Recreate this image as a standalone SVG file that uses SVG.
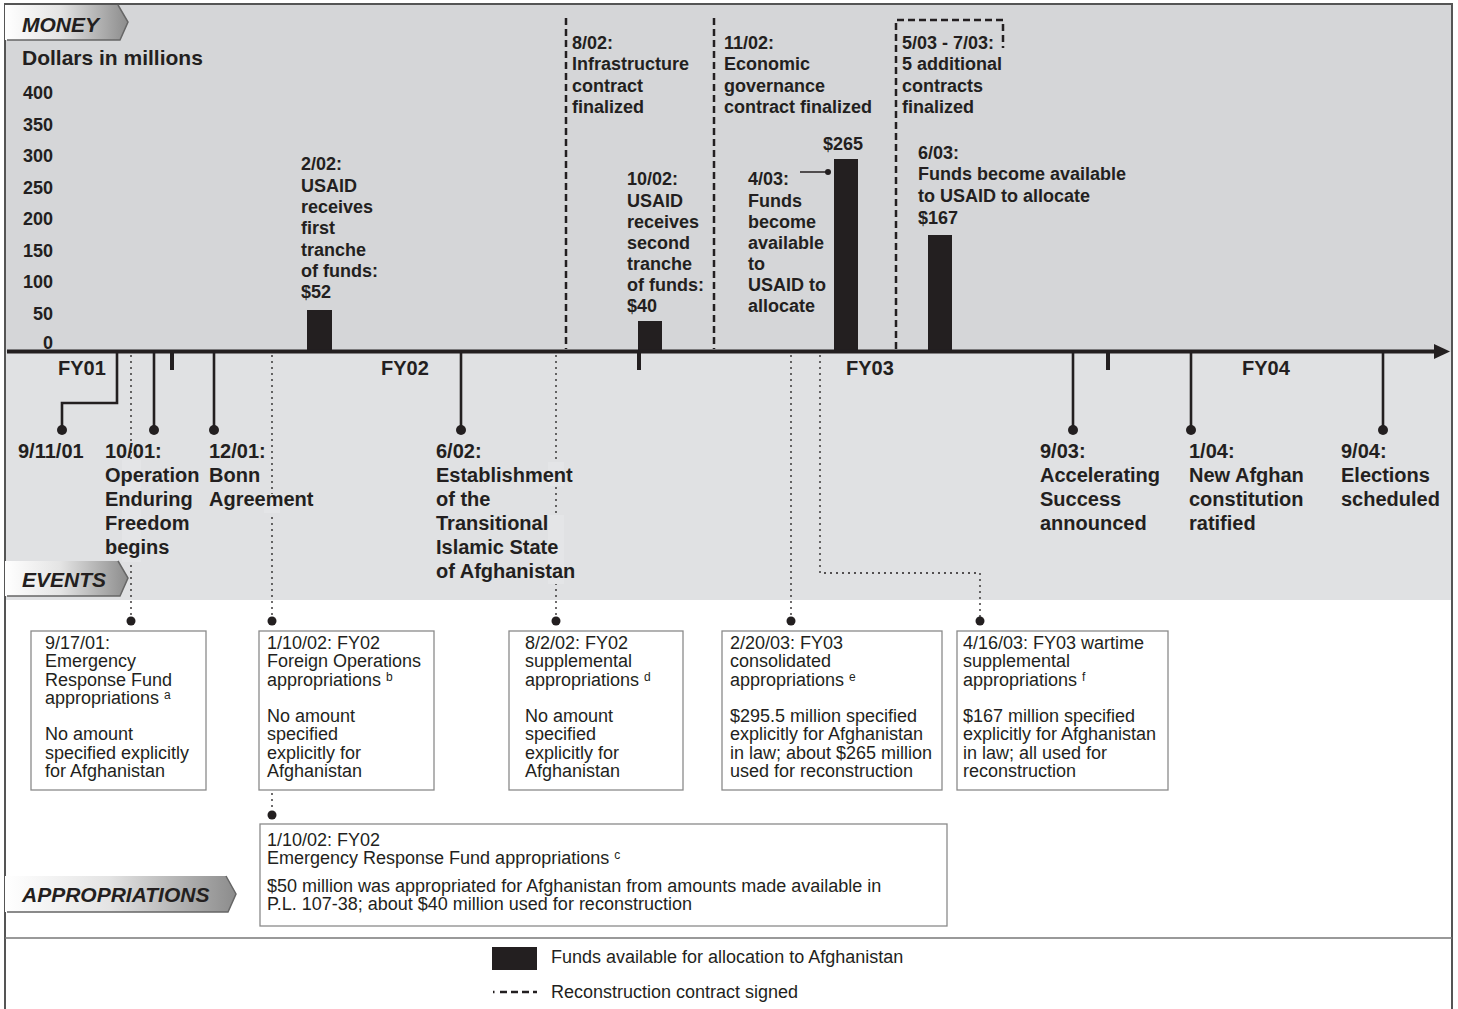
<svg xmlns="http://www.w3.org/2000/svg" width="1458" height="1009" viewBox="0 0 1458 1009">
<style>
.t{font-family:"Liberation Sans",Arial,Helvetica,sans-serif;fill:#231f20}
.b{font-weight:bold}
.s18{font-size:18px}
.s20{font-size:20px}
.s21{font-size:21px}
.tab{font-size:21px;font-weight:bold;font-style:italic}
.sup{font-size:12px}
.ev{stroke:#231f20;stroke-width:2.6;fill:none}
.dash{stroke:#231f20;stroke-width:2.5;fill:none;stroke-dasharray:7 4}
.dot{stroke:#231f20;stroke-width:1.3;fill:none;stroke-dasharray:2 4}
.box{fill:#fff;stroke:#8a8a8a;stroke-width:1.3}
.bar{fill:#231f20}
.mask{fill:#e4e5e7}
</style>
<defs>
<linearGradient id="tabg" x1="0" y1="0" x2="1" y2="0">
<stop offset="0" stop-color="#ffffff"/>
<stop offset="0.45" stop-color="#e4e4e4"/>
<stop offset="1" stop-color="#8c8c8c"/>
</linearGradient>
</defs>
<rect x="0" y="0" width="1458" height="1009" fill="#ffffff"/>
<!-- backgrounds -->
<rect x="5" y="4" width="1447" height="348" fill="#d5d6d8"/>
<rect x="5" y="352" width="1447" height="248" fill="#e0e1e3"/>
<!-- frame -->
<rect x="5" y="4" width="1447" height="1012" fill="none" stroke="#555" stroke-width="2"/>
<line x1="5" y1="938" x2="1452" y2="938" stroke="#777" stroke-width="1.5"/>

<!-- tabs -->
<g id="tab-money">
<polygon points="5,5 118,5 128,22 120,40 5,40" fill="url(#tabg)"/>
<polyline points="118,5 128,22 120,40 7,40" fill="none" stroke="#666" stroke-width="1.5"/>
<text class="t tab" x="22" y="32">MONEY</text>
</g>
<g id="tab-events">
<polygon points="5,561 118,561 128,578 120,596 5,596" fill="url(#tabg)"/>
<polyline points="118,561 128,578 120,596 7,596" fill="none" stroke="#666" stroke-width="1.5"/>
<text class="t tab" x="22" y="587">EVENTS</text>
</g>
<g id="tab-appropriations">
<polygon points="5,876 226,876 236,894 228,912 5,912" fill="url(#tabg)"/>
<polyline points="226,876 236,894 228,912 7,912" fill="none" stroke="#666" stroke-width="1.5"/>
<text class="t tab" x="22" y="902">APPROPRIATIONS</text>
</g>

<!-- y axis labels -->
<g id="yaxis" class="t b s18" text-anchor="end">
<text x="22" y="65" text-anchor="start" class="s21">Dollars in millions</text>
<text x="53" y="99">400</text>
<text x="53" y="131">350</text>
<text x="53" y="162">300</text>
<text x="53" y="194">250</text>
<text x="53" y="225">200</text>
<text x="53" y="257">150</text>
<text x="53" y="288">100</text>
<text x="53" y="320">50</text>
<text x="53" y="349">0</text>
</g>

<!-- connectors -->
<g id="connectors">
<!-- contract dashed lines -->
<path class="dash" d="M566,18 V349"/>
<path class="dash" d="M714,18 V349"/>
<path class="dash" d="M896,349 V20 H1003 V48"/>
<!-- dotted appropriation leaders -->
<path class="dot" d="M131,355 V617"/>
<path class="dot" d="M272,355 V617"/>
<path class="dot" d="M272,793 V811"/>
<path class="dot" d="M556,355 V617"/>
<path class="dot" d="M791,355 V617"/>
<path class="dot" d="M820,355 V573 H980 V617"/>
<circle cx="131" cy="621" r="4.5" fill="#231f20"/>
<circle cx="272" cy="621" r="4.5" fill="#231f20"/>
<circle cx="272" cy="815" r="4.5" fill="#231f20"/>
<circle cx="556" cy="621" r="4.5" fill="#231f20"/>
<circle cx="791" cy="621" r="4.5" fill="#231f20"/>
<circle cx="980" cy="621" r="4.5" fill="#231f20"/>
<!-- event lines -->
<path class="ev" d="M117,352 V403 H62 V430"/>
<path class="ev" d="M154,352 V430"/>
<path class="ev" d="M214,352 V430"/>
<path class="ev" d="M461,352 V430"/>
<path class="ev" d="M1073,352 V430"/>
<path class="ev" d="M1191,352 V430"/>
<path class="ev" d="M1383,352 V430"/>
<circle cx="62" cy="430" r="5" fill="#231f20"/>
<circle cx="154" cy="430" r="5" fill="#231f20"/>
<circle cx="214" cy="430" r="5" fill="#231f20"/>
<circle cx="461" cy="430" r="5" fill="#231f20"/>
<circle cx="1073" cy="430" r="5" fill="#231f20"/>
<circle cx="1191" cy="430" r="5" fill="#231f20"/>
<circle cx="1383" cy="430" r="5" fill="#231f20"/>
<!-- 4/03 pointer -->
<line x1="800" y1="172" x2="828" y2="172" stroke="#231f20" stroke-width="1.5"/>
<circle cx="828" cy="172" r="3" fill="#231f20"/>
</g>

<!-- light patches behind event text where leaders cross -->
<rect class="mask" x="122" y="460" width="19" height="102"/>
<rect class="mask" x="264" y="494" width="16" height="19"/>
<rect class="mask" x="548" y="462" width="16" height="24"/>
<rect class="mask" x="548" y="515" width="16" height="69"/>

<!-- bars -->
<g id="bars">
<rect class="bar" x="307" y="310" width="25" height="42"/>
<rect class="bar" x="638" y="321" width="24" height="31"/>
<rect class="bar" x="834" y="159" width="24" height="193"/>
<rect class="bar" x="928" y="235" width="24" height="117"/>
</g>

<!-- axis -->
<g id="axis">
<line x1="7" y1="351.5" x2="1438" y2="351.5" stroke="#231f20" stroke-width="4"/>
<polygon points="1434,344 1450,351.5 1434,359" fill="#231f20"/>
<rect x="170" y="351" width="4" height="19" fill="#231f20"/>
<rect x="637" y="351" width="4" height="19" fill="#231f20"/>
<rect x="1106" y="351" width="4" height="19" fill="#231f20"/>
<g class="t b s20">
<text x="58" y="375">FY01</text>
<text x="381" y="375">FY02</text>
<text x="846" y="375">FY03</text>
<text x="1242" y="375">FY04</text>
</g>
</g>

<!-- money labels -->
<g id="money-2-02" class="t b s18">
<text x="301" y="170">2/02:</text>
<text x="301" y="192">USAID</text>
<text x="301" y="213">receives</text>
<text x="301" y="234">first</text>
<text x="301" y="256">tranche</text>
<text x="301" y="277">of funds:</text>
<text x="301" y="298">$52</text>
</g>
<g id="money-10-02" class="t b s18">
<text x="627" y="185">10/02:</text>
<text x="627" y="207">USAID</text>
<text x="627" y="228">receives</text>
<text x="627" y="249">second</text>
<text x="627" y="270">tranche</text>
<text x="627" y="291">of funds:</text>
<text x="627" y="312">$40</text>
</g>
<g id="money-4-03" class="t b s18">
<text x="748" y="185">4/03:</text>
<text x="748" y="207">Funds</text>
<text x="748" y="228">become</text>
<text x="748" y="249">available</text>
<text x="748" y="270">to</text>
<text x="748" y="291">USAID to</text>
<text x="748" y="312">allocate</text>
<text x="823" y="150">$265</text>
</g>
<g id="money-6-03" class="t b s18">
<text x="918" y="159">6/03:</text>
<text x="918" y="180">Funds become available</text>
<text x="918" y="202">to USAID to allocate</text>
<text x="918" y="224">$167</text>
</g>
<g id="contract-8-02" class="t b s18">
<text x="572" y="49">8/02:</text>
<text x="572" y="70">Infrastructure</text>
<text x="572" y="92">contract</text>
<text x="572" y="113">finalized</text>
</g>
<g id="contract-11-02" class="t b s18">
<text x="724" y="49">11/02:</text>
<text x="724" y="70">Economic</text>
<text x="724" y="92">governance</text>
<text x="724" y="113">contract finalized</text>
</g>
<g id="contract-5-03" class="t b s18">
<text x="902" y="49">5/03 - 7/03:</text>
<text x="902" y="70">5 additional</text>
<text x="902" y="92">contracts</text>
<text x="902" y="113">finalized</text>
</g>

<!-- events -->
<g id="event-9-11-01" class="t b s20"><text x="18" y="458">9/11/01</text></g>
<g id="event-10-01" class="t b s20">
<text x="105" y="458">10/01:</text>
<text x="105" y="482">Operation</text>
<text x="105" y="506">Enduring</text>
<text x="105" y="530">Freedom</text>
<text x="105" y="554">begins</text>
</g>
<g id="event-12-01" class="t b s20">
<text x="209" y="458">12/01:</text>
<text x="209" y="482">Bonn</text>
<text x="209" y="506">Agreement</text>
</g>
<g id="event-6-02" class="t b s20">
<text x="436" y="458">6/02:</text>
<text x="436" y="482">Establishment</text>
<text x="436" y="506">of the</text>
<text x="436" y="530">Transitional</text>
<text x="436" y="554">Islamic State</text>
<text x="436" y="578">of Afghanistan</text>
</g>
<g id="event-9-03" class="t b s20">
<text x="1040" y="458">9/03:</text>
<text x="1040" y="482">Accelerating</text>
<text x="1040" y="506">Success</text>
<text x="1040" y="530">announced</text>
</g>
<g id="event-1-04" class="t b s20">
<text x="1189" y="458">1/04:</text>
<text x="1189" y="482">New Afghan</text>
<text x="1189" y="506">constitution</text>
<text x="1189" y="530">ratified</text>
</g>
<g id="event-9-04" class="t b s20">
<text x="1341" y="458">9/04:</text>
<text x="1341" y="482">Elections</text>
<text x="1341" y="506">scheduled</text>
</g>

<!-- appropriation boxes -->
<g id="approp-9-17-01">
<rect class="box" x="31" y="631" width="175" height="159"/>
<g class="t s18">
<text x="45" y="649">9/17/01:</text>
<text x="45" y="667">Emergency</text>
<text x="45" y="686">Response Fund</text>
<text x="45" y="704">appropriations <tspan class="sup" dy="-5">a</tspan></text>
<text x="45" y="740">No amount</text>
<text x="45" y="759">specified explicitly</text>
<text x="45" y="777">for Afghanistan</text>
</g>
</g>
<g id="approp-1-10-02-fo">
<rect class="box" x="259" y="631" width="175" height="159"/>
<g class="t s18">
<text x="267" y="649">1/10/02: FY02</text>
<text x="267" y="667">Foreign Operations</text>
<text x="267" y="686">appropriations <tspan class="sup" dy="-5">b</tspan></text>
<text x="267" y="722">No amount</text>
<text x="267" y="740">specified</text>
<text x="267" y="759">explicitly for</text>
<text x="267" y="777">Afghanistan</text>
</g>
</g>
<g id="approp-8-2-02">
<rect class="box" x="509" y="631" width="174" height="159"/>
<g class="t s18">
<text x="525" y="649">8/2/02: FY02</text>
<text x="525" y="667">supplemental</text>
<text x="525" y="686">appropriations <tspan class="sup" dy="-5">d</tspan></text>
<text x="525" y="722">No amount</text>
<text x="525" y="740">specified</text>
<text x="525" y="759">explicitly for</text>
<text x="525" y="777">Afghanistan</text>
</g>
</g>
<g id="approp-2-20-03">
<rect class="box" x="722" y="631" width="220" height="159"/>
<g class="t s18">
<text x="730" y="649">2/20/03: FY03</text>
<text x="730" y="667">consolidated</text>
<text x="730" y="686">appropriations <tspan class="sup" dy="-5">e</tspan></text>
<text x="730" y="722">$295.5 million specified</text>
<text x="730" y="740">explicitly for Afghanistan</text>
<text x="730" y="759">in law; about $265 million</text>
<text x="730" y="777">used for reconstruction</text>
</g>
</g>
<g id="approp-4-16-03">
<rect class="box" x="957" y="631" width="211" height="159"/>
<g class="t s18">
<text x="963" y="649">4/16/03: FY03 wartime</text>
<text x="963" y="667">supplemental</text>
<text x="963" y="686">appropriations <tspan class="sup" dy="-5">f</tspan></text>
<text x="963" y="722">$167 million specified</text>
<text x="963" y="740">explicitly for Afghanistan</text>
<text x="963" y="759">in law; all used for</text>
<text x="963" y="777">reconstruction</text>
</g>
</g>
<g id="approp-1-10-02-erf">
<rect class="box" x="260" y="824" width="687" height="102"/>
<g class="t s18">
<text x="267" y="846">1/10/02: FY02</text>
<text x="267" y="864">Emergency Response Fund appropriations <tspan class="sup" dy="-5">c</tspan></text>
<text x="267" y="892">$50 million was appropriated for Afghanistan from amounts made available in</text>
<text x="267" y="910">P.L. 107-38; about $40 million used for reconstruction</text>
</g>
</g>

<!-- legend -->
<g id="legend">
<rect x="492" y="947" width="45" height="23" fill="#231f20"/>
<text class="t s18" x="551" y="963">Funds available for allocation to Afghanistan</text>
<line x1="493" y1="992" x2="537" y2="992" stroke="#231f20" stroke-width="2.5" stroke-dasharray="1.5 5.5 7 4 7 4 7 4 7 4"/>
<text class="t s18" x="551" y="998">Reconstruction contract signed</text>
</g>
</svg>
